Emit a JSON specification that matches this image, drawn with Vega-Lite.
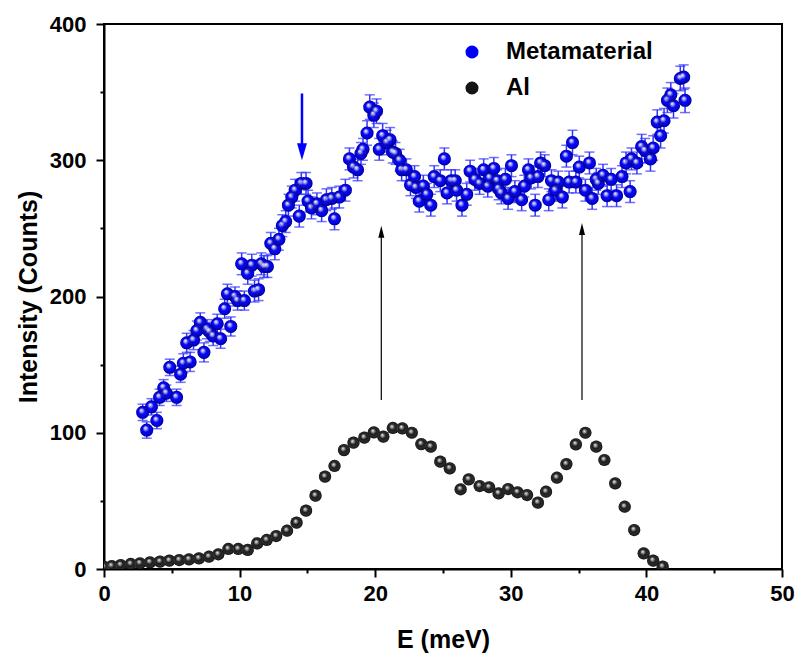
{
  "$schema": "https://vega.github.io/schema/vega-lite/v6.json",
  "width": 678,
  "height": 545,
  "autosize": "none",
  "padding": {"left": 104, "top": 24, "right": 14, "bottom": 93},
  "background": "white",
  "config": {
    "view": {"stroke": "black", "strokeWidth": 2},
    "font": "Liberation Sans"
  },
  "datasets": {
    "meta": [
      {"E": 2.85, "I": 115, "err": 6}, {"E": 3.15, "I": 102, "err": 6}, {"E": 3.5, "I": 119, "err": 6},
      {"E": 3.9, "I": 109, "err": 6}, {"E": 4.1, "I": 126, "err": 6}, {"E": 4.4, "I": 133, "err": 6},
      {"E": 4.6, "I": 129, "err": 6}, {"E": 4.85, "I": 148, "err": 6}, {"E": 5.35, "I": 126, "err": 6},
      {"E": 5.65, "I": 143, "err": 6}, {"E": 5.85, "I": 151, "err": 7}, {"E": 6.1, "I": 166, "err": 7},
      {"E": 6.35, "I": 152, "err": 7}, {"E": 6.6, "I": 168, "err": 7}, {"E": 6.85, "I": 175, "err": 7},
      {"E": 7.1, "I": 181, "err": 7}, {"E": 7.37, "I": 159, "err": 7}, {"E": 7.6, "I": 176, "err": 7},
      {"E": 7.8, "I": 174, "err": 7}, {"E": 8.05, "I": 171, "err": 7}, {"E": 8.35, "I": 180, "err": 7},
      {"E": 8.6, "I": 169, "err": 7}, {"E": 8.9, "I": 191, "err": 7}, {"E": 9.1, "I": 202, "err": 7},
      {"E": 9.35, "I": 178, "err": 7}, {"E": 9.66, "I": 200, "err": 7}, {"E": 9.85, "I": 197, "err": 7},
      {"E": 10.15, "I": 224, "err": 8}, {"E": 10.35, "I": 197, "err": 7}, {"E": 10.6, "I": 217, "err": 8},
      {"E": 10.9, "I": 223, "err": 8}, {"E": 11.1, "I": 204, "err": 8}, {"E": 11.4, "I": 205, "err": 8},
      {"E": 11.6, "I": 224, "err": 8}, {"E": 11.8, "I": 222, "err": 8}, {"E": 12.05, "I": 222, "err": 8},
      {"E": 12.3, "I": 239, "err": 8}, {"E": 12.6, "I": 235, "err": 8}, {"E": 12.9, "I": 242, "err": 8},
      {"E": 13.15, "I": 252, "err": 8}, {"E": 13.4, "I": 255, "err": 8}, {"E": 13.6, "I": 267, "err": 8},
      {"E": 13.85, "I": 273, "err": 8}, {"E": 14.1, "I": 278, "err": 8}, {"E": 14.4, "I": 259, "err": 8},
      {"E": 14.55, "I": 283, "err": 8}, {"E": 14.9, "I": 283, "err": 8}, {"E": 15.05, "I": 270, "err": 8},
      {"E": 15.3, "I": 265, "err": 8}, {"E": 15.7, "I": 268, "err": 8}, {"E": 16.05, "I": 263, "err": 8},
      {"E": 16.4, "I": 271, "err": 8}, {"E": 16.8, "I": 272, "err": 8}, {"E": 17.0, "I": 257, "err": 8},
      {"E": 17.35, "I": 273, "err": 8}, {"E": 17.8, "I": 278, "err": 8}, {"E": 18.1, "I": 301, "err": 8},
      {"E": 18.4, "I": 295, "err": 8}, {"E": 18.7, "I": 293, "err": 8}, {"E": 18.95, "I": 305, "err": 8},
      {"E": 19.1, "I": 308, "err": 8}, {"E": 19.4, "I": 320, "err": 9}, {"E": 19.6, "I": 339, "err": 9},
      {"E": 19.9, "I": 333, "err": 9}, {"E": 20.1, "I": 336, "err": 9}, {"E": 20.3, "I": 308, "err": 8},
      {"E": 20.55, "I": 318, "err": 9}, {"E": 20.85, "I": 313, "err": 9}, {"E": 21.1, "I": 315, "err": 9},
      {"E": 21.3, "I": 306, "err": 8}, {"E": 21.5, "I": 305, "err": 8}, {"E": 21.8, "I": 300, "err": 8},
      {"E": 21.95, "I": 293, "err": 8}, {"E": 22.3, "I": 293, "err": 8}, {"E": 22.6, "I": 282, "err": 8},
      {"E": 22.9, "I": 288, "err": 8}, {"E": 23.0, "I": 280, "err": 8}, {"E": 23.25, "I": 270, "err": 8},
      {"E": 23.55, "I": 281, "err": 8}, {"E": 23.8, "I": 275, "err": 8}, {"E": 24.1, "I": 267, "err": 8},
      {"E": 24.35, "I": 288, "err": 8}, {"E": 24.8, "I": 285, "err": 8}, {"E": 25.1, "I": 301, "err": 8},
      {"E": 25.3, "I": 276, "err": 8}, {"E": 25.6, "I": 285, "err": 8}, {"E": 25.9, "I": 285, "err": 8},
      {"E": 26.0, "I": 278, "err": 8}, {"E": 26.4, "I": 267, "err": 8}, {"E": 26.75, "I": 275, "err": 8},
      {"E": 27.0, "I": 292, "err": 8}, {"E": 27.35, "I": 286, "err": 8}, {"E": 27.7, "I": 283, "err": 8},
      {"E": 28.0, "I": 293, "err": 8}, {"E": 28.3, "I": 281, "err": 8}, {"E": 28.45, "I": 287, "err": 8},
      {"E": 28.75, "I": 294, "err": 8}, {"E": 29.0, "I": 285, "err": 8}, {"E": 29.1, "I": 279, "err": 8},
      {"E": 29.3, "I": 276, "err": 8}, {"E": 29.6, "I": 286, "err": 8}, {"E": 29.8, "I": 272, "err": 8},
      {"E": 30.05, "I": 296, "err": 8}, {"E": 30.3, "I": 277, "err": 8}, {"E": 30.8, "I": 271, "err": 8},
      {"E": 31.0, "I": 281, "err": 8}, {"E": 31.3, "I": 293, "err": 8}, {"E": 31.5, "I": 287, "err": 8},
      {"E": 31.8, "I": 267, "err": 8}, {"E": 32.0, "I": 288, "err": 8}, {"E": 32.2, "I": 298, "err": 8},
      {"E": 32.5, "I": 296, "err": 8}, {"E": 32.8, "I": 271, "err": 8}, {"E": 33.0, "I": 285, "err": 8},
      {"E": 33.3, "I": 278, "err": 8}, {"E": 33.5, "I": 284, "err": 8}, {"E": 33.8, "I": 273, "err": 8},
      {"E": 34.1, "I": 303, "err": 8}, {"E": 34.3, "I": 284, "err": 8}, {"E": 34.55, "I": 313, "err": 9},
      {"E": 34.8, "I": 284, "err": 8}, {"E": 35.05, "I": 295, "err": 8}, {"E": 35.5, "I": 278, "err": 8},
      {"E": 35.8, "I": 298, "err": 8}, {"E": 36.0, "I": 272, "err": 8}, {"E": 36.3, "I": 286, "err": 8},
      {"E": 36.45, "I": 283, "err": 8}, {"E": 36.8, "I": 289, "err": 8}, {"E": 37.1, "I": 274, "err": 8},
      {"E": 37.4, "I": 286, "err": 8}, {"E": 37.8, "I": 274, "err": 8}, {"E": 38.2, "I": 288, "err": 8},
      {"E": 38.5, "I": 298, "err": 8}, {"E": 38.8, "I": 277, "err": 8}, {"E": 38.9, "I": 301, "err": 8},
      {"E": 39.3, "I": 298, "err": 8}, {"E": 39.65, "I": 310, "err": 9}, {"E": 39.9, "I": 307, "err": 9},
      {"E": 40.3, "I": 301, "err": 9}, {"E": 40.5, "I": 309, "err": 9}, {"E": 40.8, "I": 328, "err": 9},
      {"E": 41.05, "I": 318, "err": 9}, {"E": 41.3, "I": 329, "err": 9}, {"E": 41.55, "I": 344, "err": 9},
      {"E": 41.8, "I": 348, "err": 9}, {"E": 42.0, "I": 340, "err": 9}, {"E": 42.5, "I": 360, "err": 9},
      {"E": 42.75, "I": 361, "err": 9}, {"E": 42.85, "I": 344, "err": 9}
    ],
    "al": [
      {"E": 0.0, "I": 1.5}, {"E": 0.57, "I": 2.2}, {"E": 1.23, "I": 2.9}, {"E": 1.97, "I": 3.7},
      {"E": 2.65, "I": 4.2}, {"E": 3.39, "I": 4.9}, {"E": 4.13, "I": 5.4}, {"E": 4.82, "I": 6.1},
      {"E": 5.55, "I": 6.6}, {"E": 6.27, "I": 7.1}, {"E": 7.0, "I": 7.8}, {"E": 7.74, "I": 9.0},
      {"E": 8.43, "I": 10.8}, {"E": 9.17, "I": 14.7}, {"E": 9.9, "I": 14.7}, {"E": 10.6, "I": 14.0},
      {"E": 11.3, "I": 18.8}, {"E": 12.0, "I": 21.3}, {"E": 12.7, "I": 24.2}, {"E": 13.5, "I": 28.1},
      {"E": 14.2, "I": 34.0}, {"E": 14.9, "I": 42.8}, {"E": 15.6, "I": 53.8}, {"E": 16.3, "I": 67.8},
      {"E": 17.0, "I": 75.6}, {"E": 17.7, "I": 87.3}, {"E": 18.4, "I": 92.7}, {"E": 19.2, "I": 96.4},
      {"E": 19.9, "I": 100.3}, {"E": 20.6, "I": 97.1}, {"E": 21.3, "I": 103.5}, {"E": 22.0, "I": 103.2},
      {"E": 22.7, "I": 100.0}, {"E": 23.4, "I": 91.7}, {"E": 24.1, "I": 89.8}, {"E": 24.8, "I": 78.8},
      {"E": 25.5, "I": 73.9}, {"E": 26.3, "I": 58.5}, {"E": 26.9, "I": 65.8}, {"E": 27.7, "I": 60.9},
      {"E": 28.4, "I": 60.0}, {"E": 29.1, "I": 55.5}, {"E": 29.8, "I": 58.7}, {"E": 30.5, "I": 56.3},
      {"E": 31.2, "I": 54.3}, {"E": 32.0, "I": 48.7}, {"E": 32.6, "I": 56.7}, {"E": 33.4, "I": 67.0},
      {"E": 34.1, "I": 77.0}, {"E": 34.8, "I": 91.5}, {"E": 35.5, "I": 100.0}, {"E": 36.3, "I": 89.8},
      {"E": 36.9, "I": 80.0}, {"E": 37.7, "I": 62.9}, {"E": 38.4, "I": 45.7}, {"E": 39.1, "I": 28.6},
      {"E": 39.8, "I": 11.5}, {"E": 40.5, "I": 6.1}, {"E": 41.2, "I": 1.7}
    ],
    "arrowBlue": [{"E": 14.6, "y1": 349, "y2": 306, "tip": 300}],
    "arrowBlack": [
      {"E": 20.45, "y1": 124, "y2": 245, "tip": 252},
      {"E": 35.25, "y1": 124, "y2": 247, "tip": 254}
    ]
  },
  "layer": [
    {
      "data": {"name": "arrowBlack"},
      "mark": {"type": "rule", "color": "black", "strokeWidth": 1.2},
      "encoding": {
        "x": {"field": "E", "type": "quantitative", "scale": {"domain": [0, 50], "nice": false}, "axis": null},
        "y": {"field": "y1", "type": "quantitative", "scale": {"domain": [0, 400], "nice": false}, "axis": null},
        "y2": {"field": "y2"}
      }
    },
    {
      "data": {"name": "arrowBlack"},
      "mark": {"type": "point", "filled": true, "opacity": 1, "color": "black", "size": 144, "shape": "M0,0L-0.5,2L0.5,2Z"},
      "encoding": {
        "x": {"field": "E", "type": "quantitative", "axis": null},
        "y": {"field": "tip", "type": "quantitative", "axis": null}
      }
    },
    {
      "data": {"name": "arrowBlue"},
      "mark": {"type": "rule", "color": "#0000ff", "strokeWidth": 2.5},
      "encoding": {
        "x": {"field": "E", "type": "quantitative", "axis": null},
        "y": {"field": "y1", "type": "quantitative", "axis": null},
        "y2": {"field": "y2"}
      }
    },
    {
      "data": {"name": "arrowBlue"},
      "mark": {"type": "point", "filled": true, "opacity": 1, "color": "#0000ff", "size": 324, "shape": "M0,0L-0.55,-1.9L0.55,-1.9Z"},
      "encoding": {
        "x": {"field": "E", "type": "quantitative", "axis": null},
        "y": {"field": "tip", "type": "quantitative", "axis": null}
      }
    },
    {
      "data": {"name": "meta"},
      "mark": {"type": "errorbar", "ticks": {"size": 10}, "color": "#3333ff", "thickness": 1.5},
      "encoding": {
        "x": {"field": "E", "type": "quantitative", "axis": null},
        "y": {"field": "I", "type": "quantitative", "axis": null},
        "yError": {"field": "err"}
      }
    },
    {
      "data": {"name": "meta"},
      "mark": {"type": "point", "filled": true, "opacity": 1, "size": 170, "shape": "circle", "strokeWidth": 0},
      "encoding": {
        "x": {
          "field": "E", "type": "quantitative",
          "axis": {"orient": "bottom", "values": [0, 10, 20, 30, 40, 50], "title": "E (meV)", "grid": false,
            "titleFontSize": 25, "titleFontWeight": "bold", "titleColor": "black", "titlePadding": 23,
            "labelFontSize": 22, "labelFontWeight": "bold", "labelColor": "black", "labelPadding": 6, "labelFlush": false,
            "tickSize": 8, "tickWidth": 2, "tickColor": "black", "domainWidth": 2, "domainColor": "black"}
        },
        "y": {
          "field": "I", "type": "quantitative",
          "axis": {"orient": "left", "values": [0, 100, 200, 300, 400], "title": "Intensity (Counts)", "grid": false,
            "titleFontSize": 25, "titleFontWeight": "bold", "titleColor": "black", "titlePadding": 8,
            "labelFontSize": 22, "labelFontWeight": "bold", "labelColor": "black", "labelPadding": 10, "labelFlush": false,
            "tickSize": 8, "tickWidth": 2, "tickColor": "black", "domainWidth": 2, "domainColor": "black"}
        },
        "color": {
          "datum": "Metamaterial", "type": "nominal",
          "scale": {"domain": ["Metamaterial", "Al"], "range": ["#0000f0", "#141414"]},
          "legend": {"orient": "none", "legendX": 356, "legendY": 16, "title": null, "padding": 0,
            "labelFontSize": 24, "labelFontWeight": "bold", "labelColor": "black", "labelOffset": 22, "labelLimit": 400,
            "symbolSize": 170, "symbolType": "circle", "symbolStrokeWidth": 0, "rowPadding": 12}
        }
      }
    },
    {
      "data": {"name": "meta"},
      "mark": {"type": "point", "filled": true, "opacity": 1, "size": 170, "shape": "circle", "strokeWidth": 0,
        "fill": {"gradient": "radial", "x1": 0.38, "y1": 0.32, "r1": 0, "x2": 0.5, "y2": 0.5, "r2": 0.5,
          "stops": [
            {"offset": 0, "color": "rgba(255,255,255,0.95)"},
            {"offset": 0.2, "color": "rgba(255,255,255,0.7)"},
            {"offset": 0.5, "color": "rgba(255,255,255,0)"},
            {"offset": 0.85, "color": "rgba(0,0,0,0.12)"},
            {"offset": 1, "color": "rgba(0,0,0,0.45)"}
          ]}},
      "encoding": {
        "x": {"field": "E", "type": "quantitative",
          "axis": {"orient": "bottom", "values": [5, 15, 25, 35, 45], "labels": false, "domain": false, "grid": false,
            "title": null, "tickSize": 4, "tickWidth": 2, "tickColor": "black"}},
        "y": {"field": "I", "type": "quantitative",
          "axis": {"orient": "left", "values": [50, 150, 250, 350], "labels": false, "domain": false, "grid": false,
            "title": null, "tickSize": 4, "tickWidth": 2, "tickColor": "black"}}
      }
    },
    {
      "data": {"name": "al"},
      "mark": {"type": "point", "filled": true, "opacity": 1, "size": 150, "shape": "circle", "strokeWidth": 0, "clip": true},
      "encoding": {
        "x": {"field": "E", "type": "quantitative", "axis": null},
        "y": {"field": "I", "type": "quantitative", "axis": null},
        "color": {
          "datum": "Al", "type": "nominal",
          "legend": {"orient": "none", "legendX": 356, "legendY": 16, "title": null, "padding": 0,
            "labelFontSize": 24, "labelFontWeight": "bold", "labelColor": "black", "labelOffset": 22, "labelLimit": 400,
            "symbolSize": 170, "symbolType": "circle", "symbolStrokeWidth": 0, "rowPadding": 12}
        }
      }
    },
    {
      "data": {"name": "al"},
      "mark": {"type": "point", "filled": true, "opacity": 1, "size": 150, "shape": "circle", "strokeWidth": 0, "clip": true,
        "fill": {"gradient": "radial", "x1": 0.4, "y1": 0.35, "r1": 0, "x2": 0.5, "y2": 0.5, "r2": 0.5,
          "stops": [
            {"offset": 0, "color": "rgba(255,255,255,0.95)"},
            {"offset": 0.2, "color": "rgba(255,255,255,0.6)"},
            {"offset": 0.5, "color": "rgba(255,255,255,0)"},
            {"offset": 1, "color": "rgba(0,0,0,0.4)"}
          ]}},
      "encoding": {
        "x": {"field": "E", "type": "quantitative", "axis": null},
        "y": {"field": "I", "type": "quantitative", "axis": null}
      }
    }
  ],
  "resolve": {"axis": {"x": "independent", "y": "independent"}}
}
